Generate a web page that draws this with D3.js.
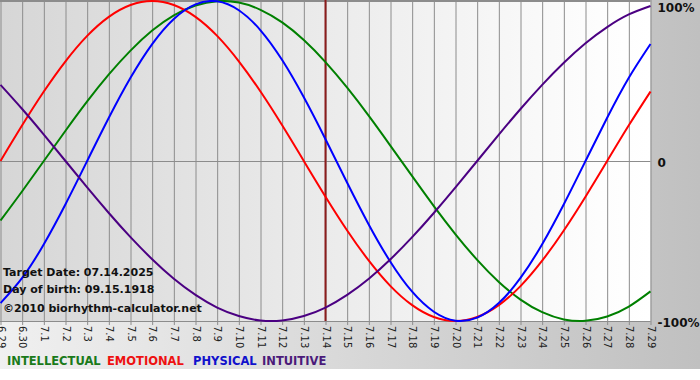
<!DOCTYPE html>
<html><head><meta charset="utf-8">
<script src="https://cdn.jsdelivr.net/npm/d3@7/dist/d3.min.js"></script>
<style>html,body{margin:0;padding:0;background:#fff;}svg{display:block;}</style>
</head><body>
<script>
const dates = ["6.29","6.30","7.1","7.2","7.3","7.4","7.5","7.6","7.7","7.8","7.9","7.10","7.11","7.12","7.13","7.14","7.15","7.16","7.17","7.18","7.19","7.20","7.21","7.22","7.23","7.24","7.25","7.26","7.27","7.28","7.29"];
const physical = [-0.888,-0.731,-0.520,-0.270,0,0.270,0.520,0.731,0.888,0.979,0.998,0.942,0.817,0.631,0.398,0.136,-0.136,-0.398,-0.631,-0.817,-0.942,-0.998,-0.979,-0.888,-0.731,-0.520,-0.270,0,0.270,0.520,0.731];
const emotional = [0,0.223,0.434,0.623,0.782,0.901,0.975,1.000,0.975,0.901,0.782,0.623,0.434,0.223,0,-0.223,-0.434,-0.623,-0.782,-0.901,-0.975,-1.000,-0.975,-0.901,-0.782,-0.623,-0.434,-0.223,0,0.223,0.434];
const intellectual = [-0.372,-0.189,0,0.189,0.372,0.541,0.690,0.815,0.910,0.972,0.999,0.990,0.945,0.866,0.756,0.618,0.458,0.282,0.095,-0.095,-0.282,-0.458,-0.618,-0.756,-0.866,-0.945,-0.990,-0.999,-0.972,-0.910,-0.815];
const intuitive = [0.476,0.325,0.165,0,-0.165,-0.325,-0.476,-0.614,-0.736,-0.837,-0.916,-0.969,-0.997,-0.997,-0.969,-0.916,-0.837,-0.736,-0.614,-0.476,-0.325,-0.165,0,0.165,0.325,0.476,0.614,0.736,0.837,0.916,0.969];
const yTicks = [1, 0, -1];
const yTickLabels = ["100%", "0", "-100%"];
const targetIndex = 15;
const infoLines = ["Target Date: 07.14.2025", "Day of birth: 09.15.1918", "\u00A92010 biorhythm-calculator.net"];
const legendNames = ["INTELLECTUAL", "EMOTIONAL", "PHYSICAL", "INTUITIVE"];

const W = 700, H = 380;
const FONT = "Verdana, 'DejaVu Sans', sans-serif";
const svg = d3.select("body").append("svg").attr("width", W).attr("height", H);
const defs = svg.append("defs");
const g1 = defs.append("linearGradient").attr("id","outer").attr("x1","0").attr("x2","1").attr("y1","0").attr("y2","0");
g1.append("stop").attr("offset","0").attr("stop-color","#f0f0f0");
g1.append("stop").attr("offset","1").attr("stop-color","#c0c0c0");
const g2 = defs.append("linearGradient").attr("id","plotbg").attr("x1","0").attr("x2","1").attr("y1","0").attr("y2","0");
g2.append("stop").attr("offset","0").attr("stop-color","#d6d6d6");
g2.append("stop").attr("offset","0.92").attr("stop-color","#fdfdfd");
g2.append("stop").attr("offset","1").attr("stop-color","#ffffff");

svg.append("rect").attr("x",0).attr("y",0).attr("width",W).attr("height",369).attr("fill","url(#outer)");

const x = d3.scaleLinear().domain([0, dates.length - 1]).range([0.5, 650.5]);
const y = d3.scaleLinear().domain([-1, 1]).range([321, 1]);
const plotH = y(-1) - y(1);

svg.append("rect").attr("x",0).attr("y",0).attr("width",x(30)).attr("height",y(-1)).attr("fill","url(#plotbg)");

// vertical grid + x axis
const xAxis = d3.axisBottom(x).tickValues(d3.range(dates.length)).tickFormat(i => dates[i]).tickSize(plotH + 5).tickSizeOuter(0);
const gx = svg.append("g").attr("transform", `translate(0,0)`).call(xAxis);
gx.select(".domain").remove();
gx.selectAll(".tick line").attr("stroke","#8c8c8c").attr("stroke-width",1);
gx.selectAll(".tick text")
  .attr("transform", `translate(0,${plotH + 6}) rotate(90)`)
  .attr("x", 0).attr("y", 0).attr("dy", "0.35em")
  .attr("text-anchor","start")
  .style("font-family",FONT).style("font-size","10px").attr("fill","#222");

// horizontal lines
svg.selectAll(".hline").data(yTicks).enter().append("line")
  .attr("x1",0).attr("x2",x(30)).attr("y1",d=>Math.round(y(d))+0.5).attr("y2",d=>Math.round(y(d))+0.5)
  .attr("stroke","#8c8c8c").attr("stroke-width",1);
svg.append("line").attr("x1",0).attr("x2",x(30)).attr("y1",0.5).attr("y2",0.5).attr("stroke","#8c8c8c");

const yAxis = d3.axisRight(y).tickValues(yTicks).tickFormat((d,i) => yTickLabels[i]).tickSize(0);
const gy = svg.append("g").attr("transform", `translate(${x(30)},0)`).call(yAxis);
gy.select(".domain").remove();
gy.selectAll(".tick text").attr("x", 7).attr("dy", d => d === 1 ? "0.85em" : "0.42em")
  .style("font-family",FONT).style("font-size","12px").style("font-weight","bold").attr("fill","#111");

// target line
svg.append("line").attr("x1",x(targetIndex)).attr("x2",x(targetIndex)).attr("y1",0).attr("y2",y(-1))
  .attr("stroke","#8b1c1c").attr("stroke-width",2);

const series = [
  {vals: intellectual, color: "#008000"},
  {vals: emotional, color: "#ff0000"},
  {vals: physical, color: "#0000ff"},
  {vals: intuitive, color: "#4b0082"}
];
const line = d3.line().x((d,i) => x(i)).y(d => y(d)).curve(d3.curveNatural);
svg.append("g").selectAll("path").data(series).enter().append("path")
  .attr("d", d => line(d.vals)).attr("fill","none").attr("stroke", d => d.color).attr("stroke-width",2);

// info text
svg.append("g").selectAll("text").data(infoLines).enter().append("text")
  .attr("x", 3).attr("y", (d,i) => [276, 293, 312][i])
  .text(d => d)
  .style("font-family",FONT).style("font-size","11px").style("font-weight","bold").attr("fill","#111");

// legend
const legendColors = ["#1a7a1a", "#ee1111", "#1111cc", "#4b1a7a"];
const legendX = [7, 107, 193, 262];
svg.append("g").selectAll("text").data(legendNames).enter().append("text")
  .attr("x",(d,i)=>legendX[i]).attr("y",365).text(d=>d)
  .attr("fill",(d,i)=>legendColors[i])
  .style("font-family",FONT).style("font-size","11.5px").style("font-weight","bold");
</script>
</body></html>
